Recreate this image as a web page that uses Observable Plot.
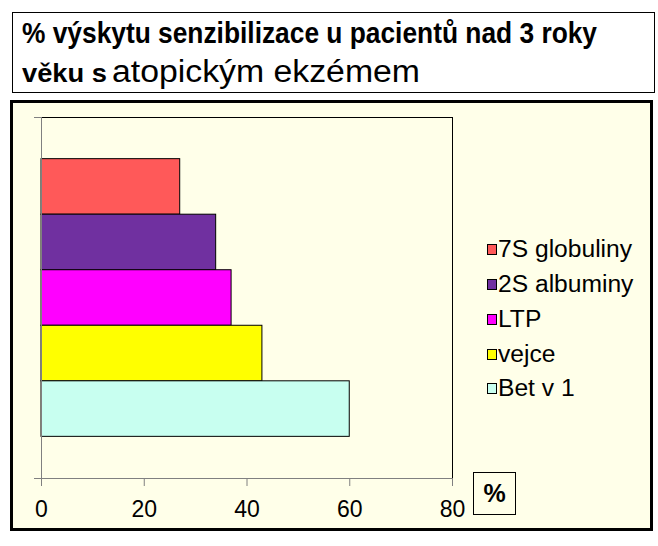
<!DOCTYPE html>
<html><head><meta charset="utf-8">
<script src="https://cdn.jsdelivr.net/npm/d3@7"></script>
<script src="https://cdn.jsdelivr.net/npm/@observablehq/plot@0.6"></script>
<style>
body{margin:0;width:658px;height:546px;background:#fff;position:relative;font-family:"Liberation Sans",Arial,sans-serif;overflow:hidden}
#title{position:absolute;left:0;top:0}
#chart{position:absolute;left:10px;top:100px;width:637px;height:425px;border:3px solid #000;background:#FFFFE9}
#chart svg{display:block}
.lg{position:absolute;left:487px;height:24px;line-height:23px;font-size:23px;white-space:nowrap;color:#000}
.sw{position:absolute;left:0;top:6px;width:8px;height:9px;border:1px solid #000}
.lg span.t{position:absolute;left:11px;top:0;transform:scaleX(1.07);transform-origin:0 0}
#unit{position:absolute;left:473px;top:472px;width:41px;height:41px;border:1px solid #000;font-weight:bold;font-size:25px;text-align:center;line-height:41px}
</style></head><body>
<svg id="title" width="658" height="100"></svg>
<div id="chart"></div>
<div id="legend"></div>
<div id="unit"></div>
<script>
const titleLine1 = "% výskytu senzibilizace u pacientů nad 3 roky";
const titleLine2a = "věku s";
const titleLine2b = "atopickým ekzémem";
const series = ["7S globuliny", "2S albuminy", "LTP", "vejce", "Bet v 1"];
const values = [27, 34, 37, 43, 60];
const colors = ["#FF5959", "#7030A0", "#FF00FF", "#FFFF00", "#C8FFF0"];
const xTicks = [0, 20, 40, 60, 80];
const unitLabel = "%";

// Title
const t = d3.select("#title");
t.append("rect").attr("x", 12.5).attr("y", 12.5).attr("width", 642).attr("height", 80)
  .attr("fill", "#fff").attr("stroke", "#000");
t.append("text").attr("x", 22).attr("y", 43).attr("font-weight", "bold").attr("font-size", 29)
  .attr("font-family", "Liberation Sans, Arial, sans-serif")
  .attr("textLength", 575).attr("lengthAdjust", "spacingAndGlyphs").text(titleLine1);
t.append("text").attr("x", 22).attr("y", 82).attr("font-weight", "bold").attr("font-size", 25)
  .attr("font-family", "Liberation Sans, Arial, sans-serif")
  .attr("textLength", 85).attr("lengthAdjust", "spacingAndGlyphs").text(titleLine2a);
t.append("text").attr("x", 112).attr("y", 82).attr("font-size", 31)
  .attr("font-family", "Liberation Sans, Arial, sans-serif")
  .attr("textLength", 308).attr("lengthAdjust", "spacingAndGlyphs").text(titleLine2b);

// Chart
const data = series.map((s, i) => ({series: s, value: values[i], idx: i}));
const pad = 0.75;
const yDomain = [-pad, series.length + pad];
const plot = Plot.plot({
  width: 637, height: 425,
  marginLeft: 28, marginRight: 198, marginTop: 14, marginBottom: 50,
  style: {background: "transparent", fontFamily: "Liberation Sans, Arial, sans-serif", color: "#000", overflow: "visible"},
  x: {domain: [xTicks[0], xTicks[xTicks.length - 1]], label: null},
  y: {domain: yDomain, reverse: true, label: null},
  color: {domain: series, range: colors},
  marks: [
    Plot.frame({stroke: "#000"}),
    Plot.rect(data, {x1: 0, x2: "value", y1: "idx", y2: d => d.idx + 1, fill: "series", stroke: "#000", strokeWidth: 1}),
    Plot.ruleX([0], {stroke: "#808080"}),
    Plot.ruleY([yDomain[1]], {stroke: "#808080"}),
    Plot.axisY({ticks: yDomain, tickSize: 7, tickFormat: () => "", stroke: "#808080"}),
    Plot.axisX({ticks: xTicks, tickSize: 8, tickPadding: 14, fontSize: 23, stroke: "#808080", fill: "#000", label: null})
  ]
});
document.getElementById("chart").appendChild(plot);

// Legend
const legendTop = [238, 273, 308, 343, 377];
const lg = d3.select("#legend");
series.forEach((s, i) => {
  const row = lg.append("div").attr("class", "lg").style("top", legendTop[i] + "px");
  row.append("div").attr("class", "sw").style("background", colors[i]);
  row.append("span").attr("class", "t").text(s);
});
document.getElementById("unit").textContent = unitLabel;
</script>
</body></html>
